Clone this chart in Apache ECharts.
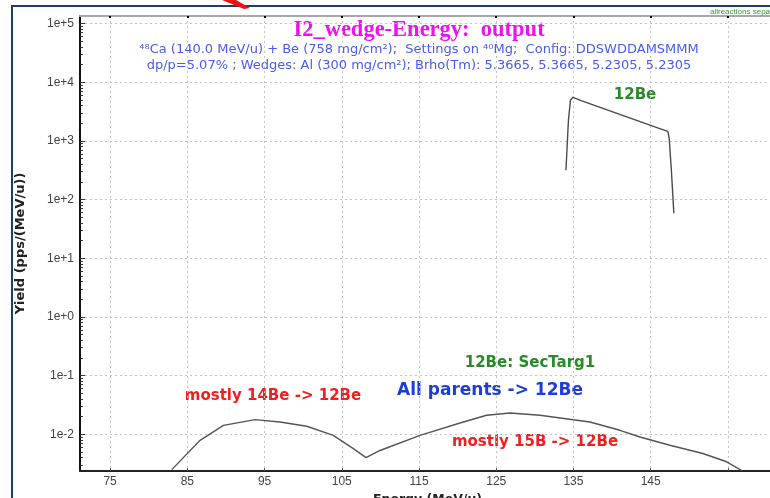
<!DOCTYPE html>
<html><head><meta charset="utf-8">
<script src="https://cdn.jsdelivr.net/npm/echarts@6/dist/echarts.min.js"></script>
<style>html,body{margin:0;padding:0;background:#fff}#c{width:770px;height:498px}</style>
</head><body><div id="c"></div>
<script>
// ---- data ----
const xTickValues = [75, 85, 95, 105, 115, 125, 135, 145, 155];
const xLabelValues = [75, 85, 95, 105, 115, 125, 135, 145];
const yDecades = [-3, -2, -1, 0, 1, 2, 3, 4, 5];
const yMinorMultipliers = [2, 3, 4, 5, 6, 7, 8, 9];
// 12Be main peak
const peakEnergy = [134.03, 134.35, 134.61, 134.94, 136, 138, 140, 142, 144, 146, 147.23, 147.4, 147.68, 148.0];
const peakYield  = [316, 2250, 4930, 5550, 4875, 3935, 3170, 2555, 2050, 1650, 1460, 1110, 316, 58.5];
// 12Be: SecTarg1
const secEnergy = [82.99, 86.65, 89.67, 93.77, 97.0, 100.46, 103.9, 106.5, 108.14, 109.95, 115.13, 120.31, 123.76, 126.78, 130.66, 137.14, 141.02, 143.61, 147.49, 151.76, 154.83, 156.81];
const secYield  = [0.0025, 0.0079, 0.0142, 0.0178, 0.0162, 0.0137, 0.0096, 0.0057, 0.0040, 0.0053, 0.0096, 0.0156, 0.0211, 0.0231, 0.0211, 0.0162, 0.0117, 0.0090, 0.0065, 0.0047, 0.0034, 0.0024];

const titleText = 'I2_wedge-Energy:  output';
const subLine1 = '⁴⁸Ca (140.0 MeV/u) + Be (758 mg/cm²);  Settings on ⁴⁰Mg;  Config: DDSWDDAMSMMM';
const subLine2 = 'dp/p=5.07% ; Wedges: Al (300 mg/cm²); Brho(Tm): 5.3665, 5.3665, 5.2305, 5.2305';

const Y_MIN = 0.002368, Y_MAX = 134900;
const chart = echarts.init(document.getElementById('c'), null, {renderer: 'canvas'});
const pairs = (xs, ys) => xs.map((x, i) => [x, ys[i]]);
const gridLine = {show: true, lineStyle: {color: '#c4c4c4', width: 1, type: [2, 3]}};
const minorExp = [];
yDecades.forEach(n => yMinorMultipliers.forEach(k => {
  const e = n + Math.log10(k);
  if (e > Math.log10(Y_MIN) && e < Math.log10(Y_MAX)) minorExp.push(e);
}));

chart.setOption({
  animation: false,
  backgroundColor: '#fff',
  grid: {left: 80, top: 16, right: -5, bottom: 27, containLabel: false, outerBoundsMode: 'none'},
  xAxis: [{
    type: 'value', min: 71.1, max: 161.1, position: 'bottom',
    name: 'Energy (MeV/u)', nameLocation: 'middle', nameGap: 15,
    nameTextStyle: {fontFamily: 'DejaVu Sans', fontWeight: 'bold', fontSize: 12.5, color: '#222', verticalAlign: 'top'},
    axisLine: {show: true, onZero: false, lineStyle: {color: '#222', width: 2}},
    axisTick: {show: true, inside: true, length: 3, customValues: xTickValues, lineStyle: {color: '#555'}},
    axisLabel: {customValues: xLabelValues, color: '#444', fontSize: 12, fontFamily: 'Liberation Sans', margin: 5},
    splitLine: gridLine
  }, {
    type: 'value', min: 71.1, max: 161.1, position: 'top',
    axisLine: {show: true, onZero: false, lineStyle: {color: '#a8a8a8', width: 2}},
    axisTick: {show: true, inside: true, length: 2, customValues: xTickValues, lineStyle: {color: '#000', width: 2}},
    axisLabel: {show: false},
    splitLine: {show: false}
  }],
  yAxis: [{
    type: 'log', logBase: 10, min: Y_MIN, max: Y_MAX,
    name: 'Yield (pps/(MeV/u))', nameLocation: 'middle', nameGap: 53, nameRotate: 90,
    nameTextStyle: {fontFamily: 'DejaVu Sans', fontWeight: 'bold', fontSize: 13, color: '#222'},
    axisLine: {show: true, onZero: false, lineStyle: {color: '#111', width: 2}},
    axisTick: {show: true, inside: true, length: 5, lineStyle: {color: '#333'}},
    axisLabel: {
      color: '#444', fontSize: 12, fontFamily: 'Liberation Sans', margin: 6,
      showMinLabel: false, showMaxLabel: false,
      formatter: v => { const e = Math.round(Math.log10(v)); return '1e' + (e >= 0 ? '+' : '-') + Math.abs(e); }
    },
    splitLine: gridLine
  }, {
    // minor log ticks, drawn on an exponent scale aligned with the log axis
    type: 'value', min: Math.log10(Y_MIN), max: Math.log10(Y_MAX), position: 'left',
    axisLine: {show: false, onZero: false},
    axisTick: {show: true, inside: true, length: 3, customValues: minorExp, lineStyle: {color: '#333', width: 1}},
    axisLabel: {show: false},
    splitLine: {show: false}
  }],
  series: [{
    name: '12Be', type: 'line', data: pairs(peakEnergy, peakYield), showSymbol: false,
    lineStyle: {color: '#4a4a4a', width: 1.4}, clip: true
  }, {
    name: '12Be: SecTarg1', type: 'line', data: pairs(secEnergy, secYield), showSymbol: false,
    lineStyle: {color: '#555', width: 1.4}, clip: true
  }],
  graphic: [
    {type: 'rect', shape: {x: 12, y: 6, width: 800, height: 520}, style: {fill: 'none', stroke: '#1d3d6e', lineWidth: 2}, z: 100},
    {type: 'polygon', shape: {points: [[222, 0], [236, 0], [250, 8], [244, 9]]}, style: {fill: '#ee1111'}, z: 101},
    {type: 'text', x: 710, y: 8, style: {text: 'allreactions separated', fill: '#2f9a2f', font: '8px "Liberation Sans"'}, z: 100},
    {type: 'text', x: 419, y: 30, style: {text: titleText, fill: '#ee10ee', font: 'bold 22.5px "Liberation Serif"', align: 'center', verticalAlign: 'middle'}},
    {type: 'text', x: 419, y: 50, style: {text: subLine1, fill: '#4a5af0', font: '13px "DejaVu Sans"', align: 'center', verticalAlign: 'middle'}},
    {type: 'text', x: 419, y: 66, style: {text: subLine2, fill: '#4a5af0', font: '13px "DejaVu Sans"', align: 'center', verticalAlign: 'middle'}},
    {type: 'text', x: 635, y: 95, style: {text: '12Be', fill: '#2a8a2a', font: 'bold 15px "DejaVu Sans"', align: 'center', verticalAlign: 'middle'}},
    {type: 'text', x: 530, y: 363, style: {text: '12Be: SecTarg1', fill: '#2a8a2a', font: 'bold 15px "DejaVu Sans"', align: 'center', verticalAlign: 'middle'}},
    {type: 'text', x: 490, y: 391, style: {text: 'All parents -> 12Be', fill: '#1e3cdc', font: 'bold 17px "DejaVu Sans"', align: 'center', verticalAlign: 'middle'}},
    {type: 'text', x: 273, y: 396, style: {text: 'mostly 14Be -> 12Be', fill: '#f02020', font: 'bold 15px "DejaVu Sans"', align: 'center', verticalAlign: 'middle'}},
    {type: 'text', x: 535, y: 442, style: {text: 'mostly 15B -> 12Be', fill: '#f02020', font: 'bold 15px "DejaVu Sans"', align: 'center', verticalAlign: 'middle'}}
  ]
});
</script></body></html>
